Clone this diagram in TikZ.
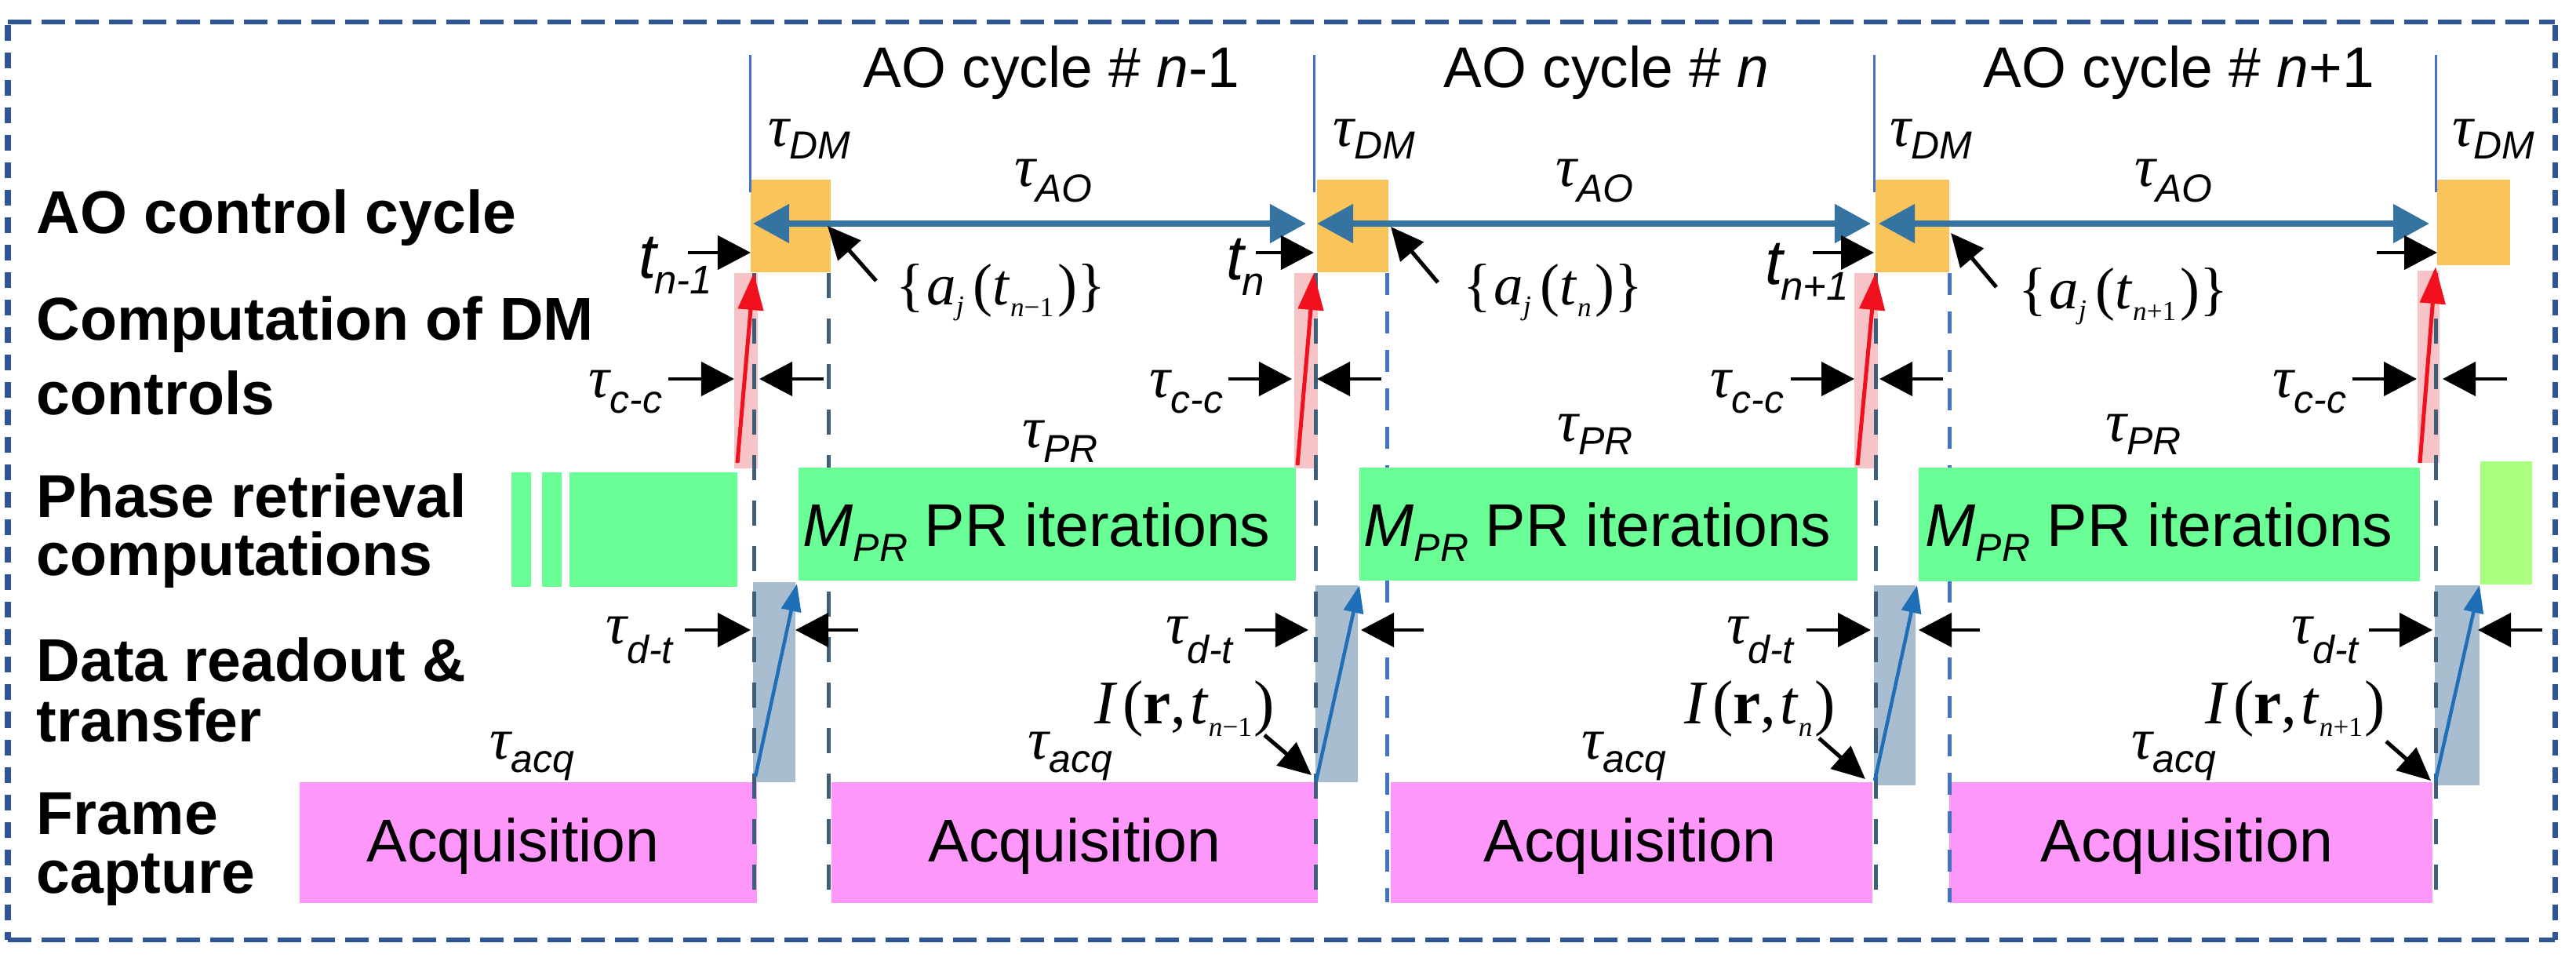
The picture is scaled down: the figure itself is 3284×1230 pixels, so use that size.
\documentclass[tikz,border=0pt]{standalone}
\usepackage{fontspec}
\setmainfont{Liberation Sans}
\newfontfamily\tms{Liberation Serif}
\usetikzlibrary{arrows.meta}
\definecolor{borderc}{HTML}{2F5597}
\definecolor{orangec}{HTML}{F9C55B}
\definecolor{greenc}{HTML}{6AFF96}
\definecolor{lgreenc}{HTML}{A8FF80}
\definecolor{pinkc}{HTML}{FD97FA}
\definecolor{grayc}{HTML}{A9BDD0}
\definecolor{pinkband}{HTML}{F6C3C6}
\definecolor{aoarrow}{HTML}{3574A0}
\definecolor{redc}{HTML}{F0101E}
\definecolor{darkdash}{HTML}{3E5F7A}
\definecolor{bluedash}{HTML}{4472C4}
\definecolor{dtarrow}{HTML}{1F6EB8}
\newcommand{\fs}[1]{\fontsize{#1}{#1}\selectfont}
\newcommand{\mytau}[2]{{\tms\itshape\fs{21.3}τ}\raisebox{-#2}{\fs{14.2}\itshape #1}}
\newcommand{\tsub}[1]{{\fs{23}\itshape t}\kern-0.03cm\raisebox{-0.2cm}{\fs{14.5}\itshape #1}}
\newcommand{\ajlab}[1]{{\tms\fs{21.3}\{\kern0.03cm\textit{a}\raisebox{-0.13cm}{\fs{10}\textit{j}}\kern0.12cm(\textit{t}\raisebox{-0.15cm}{\fs{10}#1}\kern0.05cm)\}}}
\newcommand{\Irlab}[1]{{\tms\fs{22.5}\textit{I}\kern0.06cm(\textbf{r},\kern0.05cm\textit{t}\raisebox{-0.16cm}{\fs{10}#1}\kern0.03cm)}}
\tikzset{
  rowlab/.style={font=\fs{21.9}\bfseries, anchor=base west, inner sep=0pt},
  lab/.style={anchor=base west, inner sep=0pt},
  cyclab/.style={font=\fs{20.8}, anchor=base west, inner sep=0pt},
  boxtxt/.style={font=\fs{21.9}, anchor=base, inner sep=0pt},
  blk/.style={black, line width=0.045cm, -{Triangle[length=0.42cm,width=0.43cm]}},
  ptr/.style={black, line width=0.05cm, -{Triangle[length=0.42cm,width=0.38cm]}},
  aoarr/.style={aoarrow, line width=0.08cm, {Triangle[length=0.46cm,width=0.48cm]}-{Triangle[length=0.46cm,width=0.48cm]}},
  redarr/.style={redc, line width=0.05cm, -{Triangle[length=0.47cm,width=0.32cm]}},
  dtarr/.style={dtarrow, line width=0.045cm, -{Triangle[length=0.35cm,width=0.25cm]}},
  ddash/.style={darkdash, line width=0.05cm, dash pattern=on 0.32cm off 0.26cm},
  bdash/.style={bluedash, line width=0.05cm, dash pattern=on 0.28cm off 0.21cm},
  vl/.style={bluedash, line width=0.03cm}
}
\begin{document}
\begin{tikzpicture}[x=0.01cm, y=-0.01cm]
\useasboundingbox (0,0) rectangle (3284,1230);
% border
\draw[borderc, line width=0.06cm, dash pattern=on 0.30cm off 0.13cm] (10,28) -- (3257,28);
\draw[borderc, line width=0.06cm, dash pattern=on 0.30cm off 0.13cm] (10,1198) -- (3257,1198);
\draw[borderc, line width=0.07cm, dash pattern=on 0.20cm off 0.15cm] (10,32) -- (10,1198);
\draw[borderc, line width=0.07cm, dash pattern=on 0.20cm off 0.15cm] (3257,32) -- (3257,1198);
% row labels
\node[rowlab] (l1) at (46,297) {AO control cycle};
\node[rowlab] (l2a) at (46,433) {Computation of DM};
\node[rowlab] (l2b) at (46,528) {controls};
\node[rowlab] (l3a) at (46,659) {Phase retrieval};
\node[rowlab] (l3b) at (46,733) {computations};
\node[rowlab] (l4a) at (46,868) {Data readout \&};
\node[rowlab] (l4b) at (46,945) {transfer};
\node[rowlab] (l5a) at (46,1063) {Frame};
\node[rowlab] (l5b) at (46,1138) {capture};
% cycle labels
\node[cyclab] (c1) at (1100,111) {AO cycle \# \textit{n}-1};
\node[cyclab] (c2) at (1840,111) {AO cycle \# \textit{n}};
\node[cyclab] (c3) at (2528,111) {AO cycle \# \textit{n}+1};
% background bands
\fill[pinkband] (936,348) rectangle (966,597);
\fill[pinkband] (1650,348) rectangle (1680,597);
\fill[pinkband] (2364,348) rectangle (2394,597);
\fill[pinkband] (3082,345) rectangle (3110,590);
\fill[grayc] (960,742) rectangle (1014,997);
\fill[grayc] (1677,746) rectangle (1731,997);
\fill[grayc] (2389,746) rectangle (2442,1001);
\fill[grayc] (3104,746) rectangle (3161,1001);
% pink acquisition boxes
\fill[pinkc] (382,997) rectangle (965,1151);
\fill[pinkc] (1060,997) rectangle (1680,1151);
\fill[pinkc] (1773,997) rectangle (2387,1151);
\fill[pinkc] (2485,997) rectangle (3101,1151);
% dashed lines
\foreach \x in {961,1056,1677,2391,3105} \draw[ddash] (\x,348) -- (\x,1150);
\foreach \x in {1768,2485} \draw[bdash] (\x,348) -- (\x,1150);
% green boxes
\fill[greenc] (652,602) rectangle (677,748);
\fill[greenc] (691,602) rectangle (716,748);
\fill[greenc] (726,602) rectangle (940,748);
\fill[greenc] (1018,596) rectangle (1652,740);
\fill[greenc] (1733,596) rectangle (2368,740);
\fill[greenc] (2446,596) rectangle (3085,741);
\fill[lgreenc] (3162,588) rectangle (3228,745);
% orange boxes
\fill[orangec] (957,229) rectangle (1059,347);
\fill[orangec] (1679,229) rectangle (1770,347);
\fill[orangec] (2391,229) rectangle (2485,347);
\fill[orangec] (3107,229) rectangle (3200,338);
% thin blue cycle lines
\foreach \x in {956,1675,2389,3105} \draw[vl] (\x,70) -- (\x,245);
% tau_DM
\node[lab] (dm1) at (979,186) {\mytau{DM}{0.16cm}};
\node[lab] (dm2) at (1699,186) {\mytau{DM}{0.16cm}};
\node[lab] (dm3) at (2409,186) {\mytau{DM}{0.16cm}};
\node[lab] (dm4) at (3126,186) {\mytau{DM}{0.16cm}};
% AO arrows
\foreach \i/\a/\b in {1/960/1665, 2/1679/2385, 3/2395/3097}{
  \coordinate (aoL\i) at (\a,285); \coordinate (aoR\i) at (\b,285);
  \draw[aoarr] (aoL\i) -- (aoR\i);
}
\node[lab] (ao1) at (1293,237) {\mytau{AO}{0.2cm}};
\node[lab] (ao2) at (1983,237) {\mytau{AO}{0.2cm}};
\node[lab] (ao3) at (2721,237) {\mytau{AO}{0.2cm}};
% t arrows
\foreach \i/\a/\b in {1/877/957, 2/1601/1675, 3/2311/2389, 4/3030/3107}{
  \coordinate (ts\i) at (\a,322); \coordinate (te\i) at (\b,322);
  \draw[blk] (ts\i) -- (te\i);
}
\node[lab] (t1) at (814,354) {\tsub{n-1}};
\node[lab] (t2) at (1563,356) {\tsub{n}};
\node[lab] (t3) at (2250,362) {\tsub{n+1}};
% a_j labels
\node[lab] (aj1) at (1142,388) {\ajlab{\textit{n}−1}};
\node[lab] (aj2) at (1865,388) {\ajlab{\textit{n}}};
\node[lab] (aj3) at (2573,393) {\ajlab{\textit{n}+1}};
\foreach \i/\a/\b/\c/\d in {1/1117/358/1055/288, 2/1833/360/1773/289, 3/2545/366/2487/297}{
  \coordinate (ps\i) at (\a,\b); \coordinate (pe\i) at (\c,\d);
  \draw[ptr] (ps\i) -- (pe\i);
}
% red arrows
\foreach \i/\a/\b/\c/\d in {1/940/590/961/348, 2/1654/593/1675/348, 3/2368/593/2391/348, 4/3085/590/3105/340}{
  \coordinate (rs\i) at (\a,\b); \coordinate (re\i) at (\c,\d);
  \draw[redarr] (rs\i) -- (re\i);
}
% tau_cc
\node[lab] (cc1) at (750,506) {\mytau{c-c}{0.2cm}};
\node[lab] (cc2) at (1465,506) {\mytau{c-c}{0.2cm}};
\node[lab] (cc3) at (2180,506) {\mytau{c-c}{0.2cm}};
\node[lab] (cc4) at (2897,506) {\mytau{c-c}{0.2cm}};
\foreach \i/\a/\b/\c/\d in {1/852/936/1050/968, 2/1566/1647/1761/1679, 3/2283/2364/2477/2396, 4/2999/3081/3196/3114}{
  \coordinate (cca\i) at (\a,483); \coordinate (ccb\i) at (\b,483);
  \coordinate (ccc\i) at (\c,483); \coordinate (ccd\i) at (\d,483);
  \draw[blk] (cca\i) -- (ccb\i);
  \draw[blk] (ccc\i) -- (ccd\i);
}
% tau_PR
\node[lab] (pr1) at (1303,570) {\mytau{PR}{0.19cm}};
\node[lab] (pr2) at (1985,562) {\mytau{PR}{0.17cm}};
\node[lab] (pr3) at (2684,562) {\mytau{PR}{0.17cm}};
% M_PR text
\node[lab, font=\fs{21.9}] (m1) at (1023,696) {\textit{M}\raisebox{-0.19cm}{\fs{14.2}\itshape PR} PR iterations};
\node[lab, font=\fs{21.9}] (m2) at (1738,696) {\textit{M}\raisebox{-0.19cm}{\fs{14.2}\itshape PR} PR iterations};
\node[lab, font=\fs{21.9}] (m3) at (2454,696) {\textit{M}\raisebox{-0.19cm}{\fs{14.2}\itshape PR} PR iterations};
% data transfer arrows
\foreach \i/\a/\b/\c/\d in {1/963/990/1016/744, 2/1678/995/1733/746, 3/2390/995/2444/746, 4/3105/995/3161/746}{
  \coordinate (ds\i) at (\a,\b); \coordinate (de\i) at (\c,\d);
  \draw[dtarr] (ds\i) -- (de\i);
}
\node[lab] (dt1) at (772,820) {\mytau{d-t}{0.25cm}};
\node[lab] (dt2) at (1486,820) {\mytau{d-t}{0.25cm}};
\node[lab] (dt3) at (2201,820) {\mytau{d-t}{0.25cm}};
\node[lab] (dt4) at (2921,820) {\mytau{d-t}{0.25cm}};
\foreach \i/\a/\b/\c/\d in {1/873/957/1094/1014, 2/1587/1668/1815/1735, 3/2303/2385/2524/2446, 4/3020/3101/3241/3159}{
  \coordinate (dta\i) at (\a,803); \coordinate (dtb\i) at (\b,803);
  \coordinate (dtc\i) at (\c,803); \coordinate (dtd\i) at (\d,803);
  \draw[blk] (dta\i) -- (dtb\i);
  \draw[blk] (dtc\i) -- (dtd\i);
}
% tau_acq
\node[lab] (aq1) at (624,967) {\mytau{acq}{0.17cm}};
\node[lab] (aq2) at (1310,967) {\mytau{acq}{0.17cm}};
\node[lab] (aq3) at (2016,967) {\mytau{acq}{0.17cm}};
\node[lab] (aq4) at (2717,967) {\mytau{acq}{0.17cm}};
% I labels
\node[lab] (i1) at (1395,922) {\Irlab{\textit{n}−1}};
\node[lab] (i2) at (2147,922) {\Irlab{\textit{n}}};
\node[lab] (i3) at (2811,922) {\Irlab{\textit{n}+1}};
\foreach \i/\a/\b/\c/\d in {1/1612/937/1672/988, 2/2319/941/2378/993, 3/3042/945/3099/995}{
  \coordinate (is\i) at (\a,\b); \coordinate (ie\i) at (\c,\d);
  \draw[ptr] (is\i) -- (ie\i);
}
% Acquisition text
\node[boxtxt] (q1) at (654,1098) {Acquisition};
\node[boxtxt] (q2) at (1370,1098) {Acquisition};
\node[boxtxt] (q3) at (2078,1098) {Acquisition};
\node[boxtxt] (q4) at (2788,1098) {Acquisition};
\end{tikzpicture}
\end{document}
